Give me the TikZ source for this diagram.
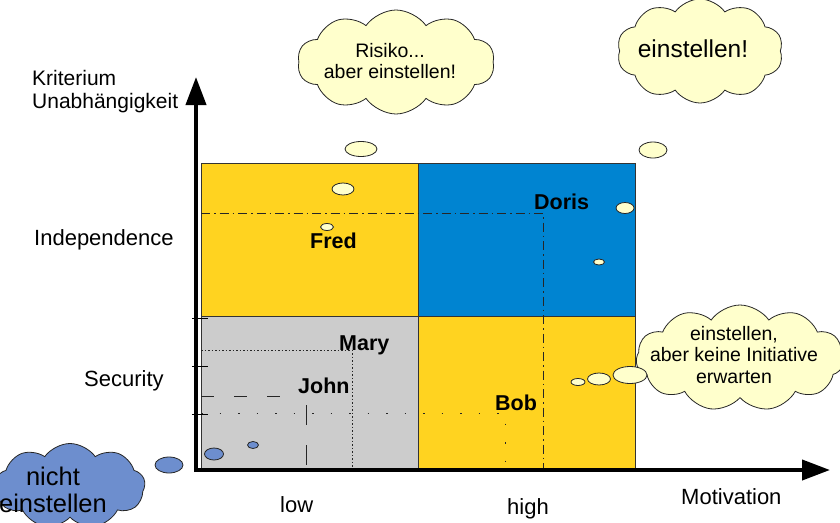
\documentclass[tikz,border=0pt]{standalone}
\usepackage{fontspec}
\setmainfont{Liberation Sans}
\usetikzlibrary{arrows.meta,shapes.symbols,shapes.geometric}
\definecolor{goldfill}{HTML}{FFD320}
\definecolor{bluefill}{HTML}{0084D1}
\definecolor{grayfill}{HTML}{CCCCCC}
\definecolor{creamfill}{HTML}{FFFFCC}
\definecolor{skyfill}{HTML}{6D8ECE}
\tikzset{
	axis/.style={line width=4pt, -{Triangle[length=28pt,width=20pt]}},
	quadrant/.style={draw=black!80, line width=0.8pt},
	guide/.style={black!85, line width=1pt},
	thought/.style={cloud, cloud puff arc=110, cloud ignores aspect, draw=black!85, line width=0.8pt, fill=creamfill, inner sep=0pt},
	bubble/.style={ellipse, draw=black!85, line width=0.8pt, fill=creamfill, inner sep=0pt},
	person/.style={font=\bfseries\fontsize{21.5}{24}\selectfont, anchor=base west, inner sep=0pt},
	axislabel/.style={font=\fontsize{22}{24}\selectfont, anchor=base west, inner sep=0pt},
	cloudtext/.style={font=\fontsize{19.5}{21.5}\selectfont, align=center, inner sep=0pt},
}
\begin{document}
\begin{tikzpicture}[x=1pt,y=-1pt]
		\useasboundingbox (0,0) rectangle (840,522);
		\fill[white] (0,0) rectangle (840,522);
		
		% Quadrants
		\filldraw[quadrant, fill=goldfill] (201,163) rectangle (418,316);
		\filldraw[quadrant, fill=bluefill] (418,163) rectangle (635,316);
		\filldraw[quadrant, fill=grayfill] (201,316) rectangle (418,468);
		\filldraw[quadrant, fill=goldfill] (418,316) rectangle (635,468);
		
		% Guide lines of the persons
		\draw[guide, dash pattern=on 9pt off 4pt on 1.5pt off 4pt] (201,213) -- (543,213) -- (543,468);
		\draw[guide, dash pattern=on 1.5pt off 2pt] (201,350) -- (352,350) -- (352,468);
		\draw[guide, dash pattern=on 13pt off 20pt] (201,396) -- (297,396);
		\draw[guide, dash pattern=on 20pt off 20pt] (306,405) -- (306,468);
		\draw[guide, dash pattern=on 1.5pt off 17pt] (201,413) -- (505,413) -- (505,468);
		
		% Ticks on the vertical axis
		\foreach \ty in {318,366,414}
			\draw[black, line width=0.8pt] (192,\ty) -- (208,\ty);
		
		% Axes
		\coordinate (origin) at (196,470);
		\coordinate (ytip) at (196,77);
		\coordinate (xtip) at (830,470);
		\draw[axis] ([yshift=-2pt]origin) -- (ytip);
		\draw[axis] ([xshift=-2pt]origin) -- (xtip);
		
		% Axis labels
		\node[axislabel, font=\fontsize{21}{23}\selectfont] (crit) at (32,85) {Kriterium};
		\node[axislabel, font=\fontsize{21}{23}\selectfont] (indep) at (32,108) {Unabhängigkeit};
		\node[axislabel] (ind) at (34,245) {Independence};
		\node[axislabel] (sec) at (84,386) {Security};
		\node[axislabel] (low) at (280,512) {low};
		\node[axislabel] (high) at (507,514) {high};
		\node[axislabel] (motiv) at (681,504) {Motivation};
		
		% Persons
		\node[person] (fred) at (310,248) {Fred};
		\node[person] (doris) at (534,209) {Doris};
		\node[person] (mary) at (339,350) {Mary};
		\node[person] (john) at (298,393) {John};
		\node[person] (bob) at (495,410) {Bob};
		
		% Thought clouds
		\node[thought, cloud puffs=10, minimum width=197pt, minimum height=104pt] (risk) at (396,62) {};
		\node[cloudtext] (risktext) at (390,61) {Risiko...\\aber einstellen!};
		\node[thought, cloud puffs=10, minimum width=166pt, minimum height=104pt] (hire) at (700,51) {};
		\node[cloudtext, font=\fontsize{24.5}{27}\selectfont, anchor=base] (hiretext) at (693,57) {einstellen!};
		\node[thought, cloud puffs=11, minimum width=208pt, minimum height=106pt] (initiative) at (740,358) {};
		\node[cloudtext] (initext) at (734,355) {einstellen,\\aber keine Initiative\\erwarten};
		\node[thought, cloud puffs=9, fill=skyfill, minimum width=150pt, minimum height=85pt] (reject) at (70,486) {};
		\node[cloudtext, font=\fontsize{25.5}{27}\selectfont] (rejtext) at (53,490) {nicht\\einstellen};
		
		% Thought bubbles
		\node[bubble, minimum width=32pt, minimum height=15pt] (r1) at (361,149) {};
		\node[bubble, minimum width=22pt, minimum height=12pt] (r2) at (343,189) {};
		\node[bubble, minimum width=13pt, minimum height=7pt] (r3) at (327,227) {};
		\node[bubble, minimum width=28pt, minimum height=16pt] (h1) at (653,150) {};
		\node[bubble, minimum width=18pt, minimum height=11pt] (h2) at (625,208) {};
		\node[bubble, minimum width=11pt, minimum height=6pt] (h3) at (599,262) {};
		\node[bubble, minimum width=34pt, minimum height=17pt] (i1) at (630,375) {};
		\node[bubble, minimum width=23pt, minimum height=12pt] (i2) at (599,379) {};
		\node[bubble, minimum width=14pt, minimum height=7pt] (i3) at (578,382) {};
		\node[bubble, fill=skyfill, minimum width=28pt, minimum height=16pt] (n1) at (169,465) {};
		\node[bubble, fill=skyfill, minimum width=19pt, minimum height=12pt] (n2) at (214,454) {};
		\node[bubble, fill=skyfill, minimum width=11pt, minimum height=7pt] (n3) at (253,445) {};
	\end{tikzpicture}
\end{document}
